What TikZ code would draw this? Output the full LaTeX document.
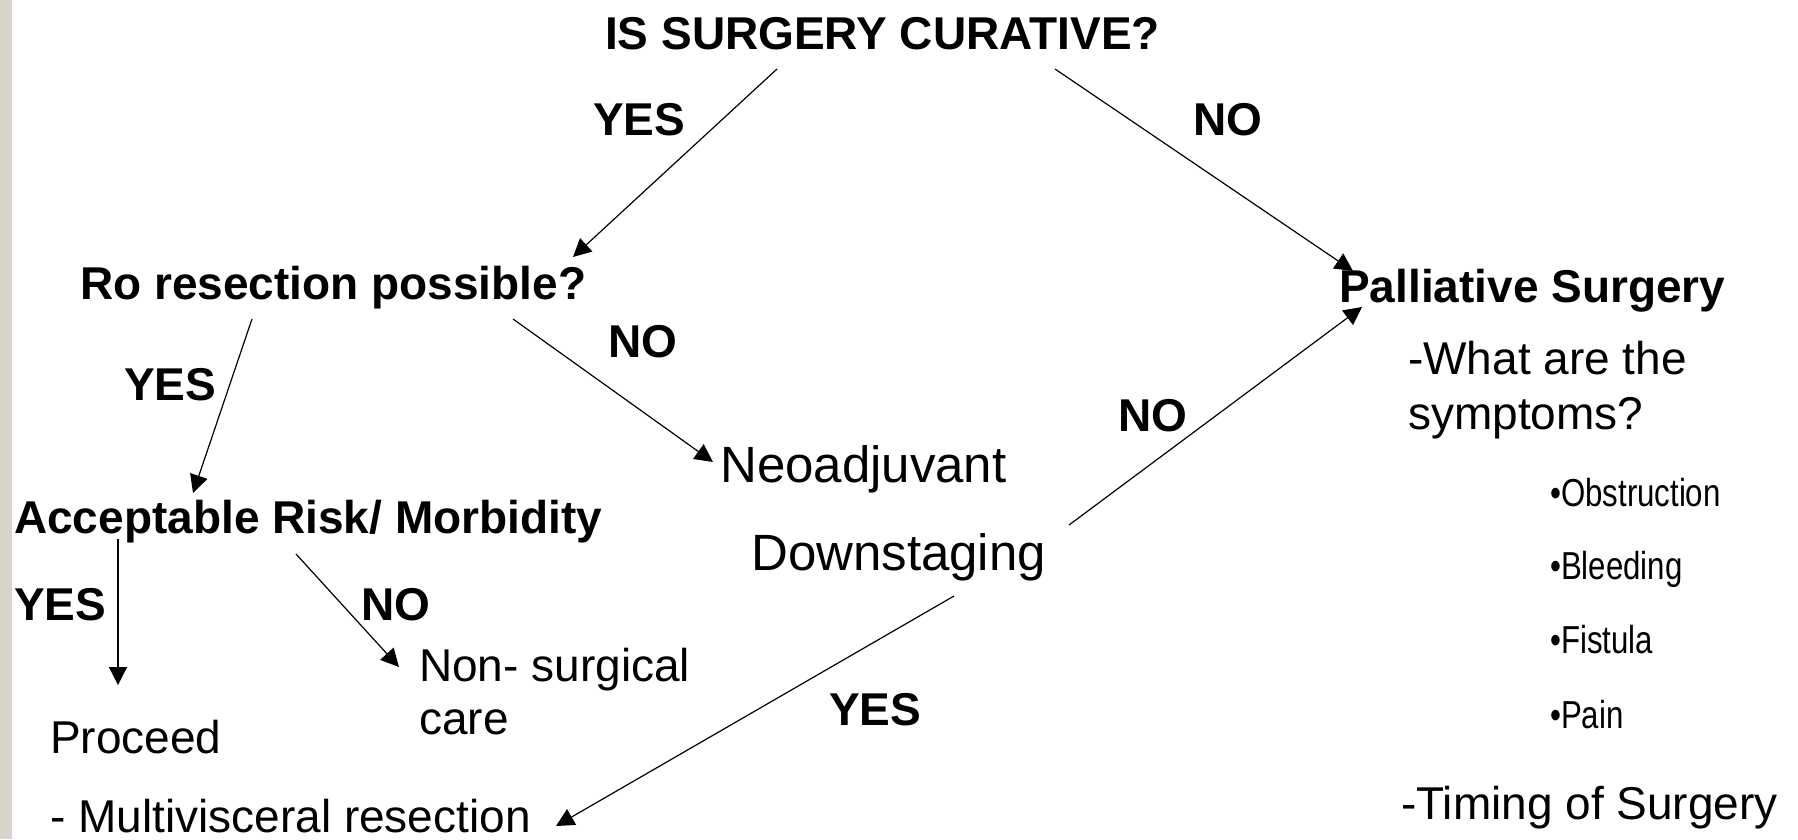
\documentclass[tikz,border=0pt]{standalone}
\usepackage{fontspec}
\setmainfont{Liberation Sans}
\newfontfamily\narrowsans[FakeStretch=0.8]{Liberation Sans}
\usetikzlibrary{arrows.meta}
\definecolor{barcol}{RGB}{216,212,204}
\tikzset{
  lbl/.style={anchor=base west, inner sep=0pt, font=\bfseries\fontsize{46}{55}\selectfont},
  txt/.style={anchor=base west, inner sep=0pt, font=\fontsize{46}{55}\selectfont},
  bigtxt/.style={anchor=base west, inner sep=0pt, font=\fontsize{51}{60}\selectfont},
  smalltxt/.style={anchor=base west, inner sep=0pt, font=\narrowsans\fontsize{39}{46}\selectfont},
  conn/.style={draw=black, line width=1.2pt, -{Triangle[length=18pt,width=18pt]}}
}
\begin{document}
\begin{tikzpicture}[x=1pt,y=-1pt]
\useasboundingbox (0,0) rectangle (1798,839);
\fill[white] (0,0) rectangle (1798,839);
\fill[barcol] (0,0) rectangle (12,839);
% nodes
\node[lbl] (title) at (605,49) {IS SURGERY CURATIVE?};
\node[lbl] (yes1) at (593,135) {YES};
\node[lbl] (no1) at (1193,135) {NO};
\node[lbl] (ro) at (80,299) {Ro resection possible?};
\node[lbl] (pall) at (1339,302) {Palliative Surgery};
\node[lbl] (yes2) at (124,400) {YES};
\node[lbl] (no2) at (608,357) {NO};
\node[bigtxt] (neo) at (720,482) {Neoadjuvant};
\node[bigtxt] (down) at (751,570) {Downstaging};
\node[lbl] (no3) at (1118,431) {NO};
\node[txt] (what) at (1408,374) {-What are the};
\node[txt] (sympt) at (1408,429) {symptoms?};
\node[smalltxt] (obs) at (1550,506) {•Obstruction};
\node[smalltxt] (bleed) at (1550,579) {•Bleeding};
\node[smalltxt] (fist) at (1550,653) {•Fistula};
\node[smalltxt] (pain) at (1550,728) {•Pain};
\node[txt] (timing) at (1401,819) {-Timing of Surgery};
\node[lbl] (accept) at (14,533) {Acceptable Risk/ Morbidity};
\node[lbl] (yes3) at (14,620) {YES};
\node[lbl] (no4) at (361,620) {NO};
\node[txt] (nonsurg) at (419,681) {Non- surgical};
\node[txt] (care) at (419,734) {care};
\node[txt] (proceed) at (50,753) {Proceed};
\node[txt] (multi) at (50,832) {- Multivisceral resection};
\node[lbl] (yes4) at (829,725) {YES};
% connector end points
\coordinate (a1s) at (777,69);  \coordinate (a1e) at (573,257);
\coordinate (a2s) at (1055,69); \coordinate (a2e) at (1353,271);
\coordinate (a3s) at (252,319); \coordinate (a3e) at (193,493);
\coordinate (a4s) at (513,319); \coordinate (a4e) at (713,462);
\coordinate (a5s) at (1069,525); \coordinate (a5e) at (1362,307);
\coordinate (a6s) at (118,539); \coordinate (a6e) at (118,685);
\coordinate (a7s) at (296,554); \coordinate (a7e) at (399,667);
\coordinate (a8s) at (954,596); \coordinate (a8e) at (556,826);
\draw[conn] (a1s) -- (a1e);
\draw[conn] (a2s) -- (a2e);
\draw[conn] (a3s) -- (a3e);
\draw[conn] (a4s) -- (a4e);
\draw[conn] (a5s) -- (a5e);
\draw[conn] (a6s) -- (a6e);
\draw[conn] (a7s) -- (a7e);
\draw[conn] (a8s) -- (a8e);
\end{tikzpicture}
\end{document}
